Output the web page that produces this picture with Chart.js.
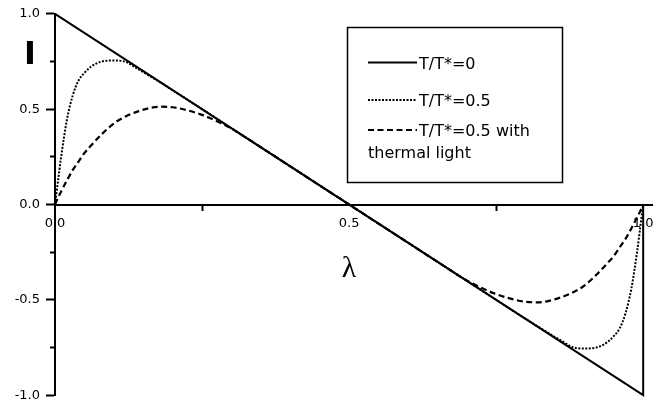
<!DOCTYPE html>
<html><head><meta charset="utf-8">
<script src="https://cdn.jsdelivr.net/npm/chart.js@4/dist/chart.umd.min.js"></script>
<style>html,body{margin:0;padding:0;background:#fff;}canvas{display:block;}</style>
</head><body>
<canvas id="c" width="672" height="409"></canvas>
<script>
// ---- data ----
const lambda = [0, 0.005, 0.01, 0.02, 0.03, 0.04, 0.05, 0.06, 0.08, 0.10, 0.12, 0.14, 0.16, 0.18, 0.20, 0.22, 0.25, 0.28, 0.30, 0.35, 0.40, 0.45,
  0.50,
  0.55, 0.60, 0.65, 0.70, 0.72, 0.75, 0.78, 0.80, 0.82, 0.84, 0.86, 0.88, 0.90, 0.92, 0.94, 0.95, 0.96, 0.97, 0.98, 0.99, 0.995, 1.0];
const iDotted = [0, 0.12, 0.24, 0.44, 0.57, 0.65, 0.69, 0.72, 0.75, 0.755, 0.748, 0.712, 0.676, 0.638, 0.599, 0.56, 0.50, 0.44, 0.40, 0.30, 0.20, 0.10,
  0,
  -0.10, -0.20, -0.30, -0.40, -0.44, -0.50, -0.56, -0.599, -0.638, -0.676, -0.712, -0.748, -0.755, -0.75, -0.72, -0.69, -0.65, -0.57, -0.44, -0.24, -0.12, 0];
const iDashed = [0, 0.035, 0.065, 0.125, 0.18, 0.225, 0.27, 0.305, 0.37, 0.425, 0.462, 0.487, 0.505, 0.513, 0.51, 0.498, 0.47, 0.43, 0.398, 0.30, 0.20, 0.10,
  0,
  -0.10, -0.20, -0.30, -0.398, -0.43, -0.47, -0.498, -0.51, -0.513, -0.505, -0.487, -0.462, -0.425, -0.37, -0.305, -0.27, -0.225, -0.18, -0.125, -0.065, -0.035, 0];
const lambdaSolid = [0, 1, 1];
const iSolid = [1, -1, 0];
const seriesNames = ['T/T*=0', 'T/T*=0.5', 'T/T*=0.5 with'];
const legendExtraLine = 'thermal light';
const xTickValues = [0, 0.25, 0.5, 0.75, 1];
const xTickLabels = ['0.0', '', '0.5', '', '1.0'];
const yTickValues = [-1, -0.75, -0.5, -0.25, 0, 0.25, 0.5, 0.75, 1];
const yTickLabels = ['-1.0', '', '-0.5', '', '0.0', '', '0.5', '', '1.0'];
const xTitle = 'λ';
const yTitle = 'I';

const FONT = 'DejaVu Sans';
const isMajor = v => Math.abs(v * 2 - Math.round(v * 2)) < 1e-9;

const overlay = {
  id: 'overlay',
  afterDraw(chart) {
    const ctx = chart.ctx;
    ctx.save();
    ctx.fillStyle = '#000';
    ctx.textAlign = 'center';
    ctx.textBaseline = 'middle';
    ctx.font = 'bold 32px "' + FONT + '"';
    ctx.fillText(yTitle, 30, 56);
    ctx.font = '30px "Liberation Serif"';
    ctx.fillText(xTitle, chart.scales.x.getPixelForValue(0.5), 269);
    // legend
    ctx.lineWidth = 1.5;
    ctx.strokeStyle = '#000';
    ctx.setLineDash([]);
    ctx.strokeRect(347.5, 27.5, 215, 155);
    const rows = [62.5, 100, 130];
    chart.data.datasets.forEach((ds, i) => {
      ctx.beginPath();
      ctx.setLineDash(ds.borderDash || []);
      ctx.lineWidth = ds.borderWidth;
      ctx.moveTo(368, rows[i]);
      ctx.lineTo(417, rows[i]);
      ctx.stroke();
      ctx.setLineDash([]);
      ctx.font = '16px "' + FONT + '"';
      ctx.textAlign = 'left';
      ctx.textBaseline = 'alphabetic';
      ctx.fillText(ds.label, 419, rows[i] + 6);
    });
    ctx.fillText(legendExtraLine, 368, 158);
    ctx.restore();
  }
};

new Chart(document.getElementById('c'), {
  type: 'line',
  data: {
    datasets: [
      { label: seriesNames[0], data: lambdaSolid.map((x, k) => ({x, y: iSolid[k]})),
        borderColor: '#000', borderWidth: 2, pointRadius: 0, tension: 0, borderDash: [] },
      { label: seriesNames[1], data: lambda.map((x, k) => ({x, y: iDotted[k]})),
        borderColor: '#000', borderWidth: 2, pointRadius: 0, cubicInterpolationMode: 'monotone', borderDash: [2, 1.5] },
      { label: seriesNames[2], data: lambda.map((x, k) => ({x, y: iDashed[k]})),
        borderColor: '#000', borderWidth: 2.2, pointRadius: 0, cubicInterpolationMode: 'monotone', borderDash: [6, 3.5] }
    ]
  },
  options: {
    responsive: false,
    animation: false,
    devicePixelRatio: 1,
    clip: 4,
    layout: { padding: { left: 0, right: 20, top: 11, bottom: 12 } },
    plugins: { legend: { display: false }, tooltip: { enabled: false } },
    scales: {
      x: {
        type: 'linear', min: 0, max: 1.015,
        position: { y: 0 },
        afterFit: s => { s.height = 0; },
        afterBuildTicks: s => { s.ticks = xTickValues.map(v => ({ value: v })); },
        ticks: {
          callback: v => xTickLabels[xTickValues.indexOf(v)],
          font: { family: FONT, size: 13 }, color: '#000', padding: 6, maxRotation: 0, autoSkip: false
        },
        grid: {
          drawOnChartArea: false, tickLength: 5, tickWidth: 2,
          tickColor: c => (c.tick && isMajor(c.tick.value)) ? 'rgba(0,0,0,0)' : '#000'
        },
        border: { display: true, color: '#000', width: 2 }
      },
      y: {
        type: 'linear', min: -1, max: 1, position: 'left',
        afterFit: s => { s.width = 55; },
        afterBuildTicks: s => { s.ticks = yTickValues.map(v => ({ value: v })); },
        ticks: {
          callback: v => yTickLabels[yTickValues.indexOf(v)],
          font: { family: FONT, size: 13 }, color: '#000', padding: 6, autoSkip: false
        },
        grid: {
          drawOnChartArea: false, tickLength: 9, tickWidth: 2, tickColor: '#000',
          tickBorderDash: c => (c.tick && isMajor(c.tick.value)) ? [] : [0, 4, 6, 100]
        },
        border: { display: true, color: '#000', width: 2 }
      }
    }
  },
  plugins: [overlay]
});
</script>
</body></html>
